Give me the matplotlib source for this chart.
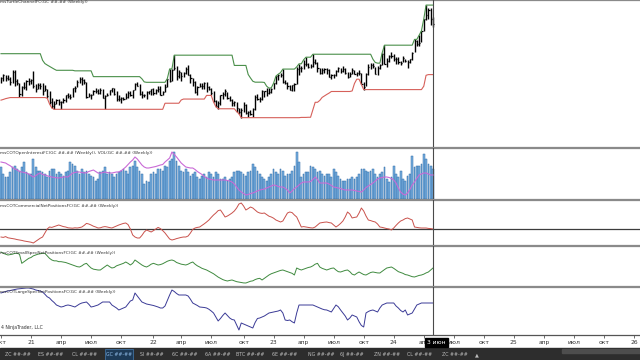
import numpy as np
import matplotlib
matplotlib.use('Agg')
import matplotlib.pyplot as plt
from matplotlib.patches import Rectangle
from matplotlib.transforms import blended_transform_factory

# weekly GC bars, Oct 2020 .. May 2024
close = [1907,1930,1906,1905,1879,1952,1889,1872,1788,1842,
         1843,1888,1883,1895,1850,1829,1855,1850,1814,1824,
         1777,1733,1700,1720,1744,1732,1728,1744,1780,1778,
         1768,1832,1838,1877,1903,1892,1879,1769,1781,1784,
         1810,1815,1801,1817,1763,1779,1783,1819,1833,1790,
         1752,1752,1760,1757,1768,1796,1783,1818,1868,1852,
         1788,1784,1784,1805,1811,1828,1797,1817,1831,1784,
         1808,1842,1899,1888,1969,1985,1921,1954,1923,1945,
         1974,1934,1911,1882,1808,1842,1853,1850,1875,1840,
         1830,1801,1742,1703,1727,1781,1791,1816,1762,1749,
         1721,1728,1683,1655,1672,1709,1649,1657,1645,1681,
         1771,1754,1755,1810,1810,1800,1804,1826,1870,1921,
         1928,1930,1876,1874,1850,1817,1856,1867,1973,1983,
         1986,2011,2015,1990,1999,2025,2019,1981,1944,1969,
         1977,1971,1920,1929,1932,1964,1982,1959,1976,1946,
         1915,1940,1966,1942,1945,1945,1866,1845,1941,1994,
         2006,1999,1940,1984,2003,2089,2014,2036,2069,2071,
         2050,2051,2029,2018,2054,2038,2024,2046,2096,2186,
         2161,2165,2254,2345,2374,2413,2349,2311]
high = [1917,1937,1933,1931,1918,1966,1966,1900,1875,1850,
        1876,1896,1907,1900,1962,1864,1875,1875,1875,1855,
        1830,1815,1760,1740,1757,1756,1742,1759,1785,1798,
        1790,1837,1846,1891,1913,1919,1903,1880,1796,1790,
        1818,1834,1830,1836,1831,1785,1795,1823,1837,1835,
        1809,1785,1765,1771,1800,1814,1812,1822,1870,1877,
        1865,1810,1792,1814,1815,1831,1832,1831,1848,1853,
        1812,1866,1905,1976,1975,2078,1995,1966,1950,1953,
        1987,2002,1935,1909,1885,1849,1870,1874,1878,1876,
        1848,1834,1812,1745,1742,1785,1807,1824,1806,1772,
        1750,1740,1733,1688,1686,1733,1715,1667,1675,1684,
        1780,1789,1765,1823,1815,1834,1834,1836,1871,1923,
        1937,1949,1975,1891,1880,1855,1860,1870,1991,2014,
        2000,2044,2063,2020,2015,2085,2048,2024,1985,1985,
        1985,1983,1972,1938,1942,1970,1991,1986,2000,1980,
        1952,1952,1981,1969,1956,1965,1948,1879,1948,2009,
        2019,2017,1989,1995,2014,2095,2152,2059,2077,2098,
        2083,2068,2062,2036,2071,2052,2043,2050,2103,2195,
        2191,2226,2259,2346,2449,2431,2427,2364]
low = [1873,1885,1890,1894,1860,1873,1850,1855,1767,1776,
       1824,1822,1855,1861,1833,1808,1828,1830,1785,1810,
       1760,1717,1687,1677,1720,1706,1679,1723,1732,1763,
       1757,1768,1808,1843,1872,1856,1866,1761,1767,1750,
       1784,1795,1789,1790,1759,1677,1772,1781,1806,1781,
       1742,1736,1722,1746,1753,1760,1772,1758,1818,1846,
       1782,1761,1766,1753,1787,1785,1783,1792,1807,1780,
       1780,1805,1842,1878,1890,1965,1895,1910,1890,1915,
       1941,1930,1872,1850,1797,1786,1840,1828,1827,1805,
       1821,1785,1731,1697,1681,1711,1754,1774,1753,1736,
       1700,1703,1660,1644,1615,1660,1641,1617,1637,1618,
       1673,1746,1729,1743,1765,1776,1787,1797,1825,1866,
       1897,1913,1871,1861,1829,1817,1809,1813,1868,1934,
       1950,1978,2000,1983,1985,1993,2012,1952,1937,1938,
       1945,1937,1914,1900,1912,1925,1954,1946,1954,1942,
       1912,1913,1940,1938,1924,1933,1861,1823,1848,1929,
       1977,1983,1935,1934,1977,2006,2009,1987,2026,2058,
       2033,2015,2010,2003,2028,2026,1984,2019,2040,2100,
       2146,2149,2172,2257,2338,2348,2302,2285]

# turtle channel (26 weeks)
upper = ([2089]*18 + [2040, 2016, 2005, 1995, 1985, 1975] + [1966]*8 + [1962]*8
         + [1919]*21 + [1903, 1880] + [1877]*9 + [1905] + [1976]*2 + [2078]*26
         + [2002]*6 + [1935, 1909, 1885] + [1878]*4 + [1876, 1848, 1834, 1836]
         + [1871, 1923, 1937, 1949] + [1975]*6 + [1991] + [2014]*2 + [2044]
         + [2063]*3 + [2085]*26 + [2048, 2024] + [2019]*2 + [2095] + [2152]*13
         + [2195]*2 + [2226, 2259, 2346] + [2449]*4)
lower = ([1745, 1750, 1756, 1760] + [1764]*16 + [1760, 1717, 1687] + [1677]*48
         + [1722]*7 + [1746] + [1753]*10 + [1780]*3 + [1731, 1697] + [1681]*8
         + [1660, 1644] + [1615]*26 + [1617]*3 + [1618]*2 + [1673] + [1729]*2
         + [1743, 1765, 1776, 1787, 1797] + [1809]*9 + [1813, 1868] + [1900]*2
         + [1861] + [1823]*26 + [1848, 1929] + [1934]*3)

# volume and open interest, thousands of contracts
volume = [1900,1500,1300,1300,1600,1900,2000,1800,1700,1900,
          2200,1600,1500,1500,2400,1900,1700,1700,1600,1500,
          1300,1700,1800,1800,1500,1600,1500,1400,1600,1700,
          2200,2100,2000,1700,1500,1800,1600,1700,1500,1400,
          1300,1100,1200,1600,1700,1900,1500,1600,1500,1300,
          1500,1600,1700,1800,1700,1500,1900,2000,2300,1900,
          1700,1500,900,1100,1000,1500,1600,1500,1800,1800,
          1700,2000,1900,2300,2400,2800,2300,2000,1700,1600,
          1800,1600,1400,1500,1600,1300,1200,1400,1500,1300,
          1600,1500,1300,1600,1500,1200,1200,1300,1100,1200,
          1300,1600,1700,1700,1600,1500,1400,1600,1700,2100,
          1900,1700,1500,1300,1200,1100,1300,1500,1800,1600,
          1500,1800,1700,1400,1500,1500,1700,2000,2800,2200,
          1300,1500,1600,1600,2000,1900,1800,1600,1700,1500,
          1400,1500,1500,1300,1800,1600,1400,1200,1100,1100,
          1200,1200,1300,1200,1300,1500,1800,1800,1700,1600,
          1700,1800,1500,1300,1500,1600,1900,1200,1000,1300,
          2000,1500,1300,1700,1200,1100,1400,1500,2600,1900,
          2000,2000,2100,2700,2400,2100,2000,1800]
open_int = [610,608,606,600,595,588,582,578,572,570,
            568,566,562,556,550,555,562,566,560,558,
            555,552,550,548,547,546,548,550,551,550,
            558,566,568,570,570,568,566,567,572,575,
            578,572,566,565,568,570,568,566,566,568,
            570,570,575,582,590,600,610,618,630,622,
            610,598,590,586,586,588,590,592,595,598,
            600,610,618,626,650,640,630,618,606,598,
            590,588,586,586,580,572,566,560,552,546,
            542,540,538,538,538,538,538,538,536,534,
            530,522,510,498,490,484,478,480,484,486,
            490,494,498,500,502,506,510,514,518,516,
            512,510,510,505,498,486,494,504,510,518,
            526,530,530,530,532,540,550,540,526,526,
            526,526,522,516,510,508,506,504,500,498,
            498,498,498,496,494,492,490,498,508,514,
            520,526,534,542,546,548,550,550,548,544,
            538,526,506,490,482,478,486,500,518,530,
            545,558,562,566,566,562,558,558]

# COT net positions, thousands
commercial = [-290,-292,-288,-294,-296,-298,-300,-303,-305,-307,
              -310,-312,-314,-316,-320,-312,-304,-296,-290,-270,
              -250,-240,-242,-238,-234,-230,-234,-238,-240,-244,
              -245,-246,-244,-245,-243,-240,-232,-222,-225,-230,
              -236,-240,-245,-244,-240,-238,-240,-243,-245,-240,
              -235,-230,-226,-222,-220,-228,-250,-280,-290,-295,
              -295,-282,-265,-255,-260,-265,-258,-250,-242,-248,
              -258,-270,-285,-300,-305,-302,-298,-295,-292,-290,
              -290,-285,-270,-252,-245,-242,-240,-232,-224,-215,
              -205,-192,-180,-170,-158,-155,-172,-190,-185,-178,
              -170,-160,-145,-125,-120,-135,-155,-148,-140,-145,
              -155,-165,-170,-172,-170,-178,-186,-190,-196,-205,
              -210,-215,-210,-190,-170,-165,-168,-180,-190,-215,
              -240,-238,-240,-242,-244,-245,-240,-230,-220,-218,
              -216,-215,-218,-220,-230,-240,-232,-222,-210,-190,
              -165,-175,-195,-192,-190,-170,-145,-160,-185,-205,
              -208,-212,-215,-225,-240,-242,-245,-248,-250,-255,
              -245,-232,-220,-210,-205,-198,-195,-200,-205,-240,
              -242,-244,-245,-245,-245,-247,-248,-250]
small_spec = [37.6,36,35,34,34.5,35,36,36,35,24,
              26,28,30,31,33,34,35,35.5,36,36,
              33,30,28,27,27,26,26,25.5,25,24,
              23,22,21,20,19.6,21,23,24,21,18.4,
              17,16.5,16,16,18,20,22,20,18.4,19,
              21,22,23,24,25.6,24,22,24,28,26,
              24,22,20.5,19.6,21,23,24,23,22,22.5,
              23.5,25,26.5,27.5,28,27,25,24,23,22.5,
              22,23,24.5,25.6,23,21,19.6,18,17,16,
              14.5,13,11.5,9.5,7.5,6,4.5,3.5,2.8,3.5,
              4,3,2,1.5,1,0.5,0.4,1.5,2.5,3,
              4.5,5.5,6,4,6,8,10,11.5,12.5,13.6,
              14.5,15.5,16,15,14,13,12,10,18.4,17,
              16,17,18,19,19.6,21,23,24,19.6,18,
              17,16,17,18,18.4,16,14,13.6,14.5,15.5,
              16,14,11,10,12,13.6,12,10.5,10,11.5,
              13,13.6,13,12.5,12.4,14.5,16.5,18.4,19,19.6,
              18,16,14,13,12,10.5,10,9,8,7.6,
              8.5,9.5,10,11,12.5,13.6,16,18.4]
large_spec = [230,233,236,238,240,242,244,246,247,248,
              249,250,250,248,246,242,240,238,234,225,
              215,210,200,192,182,178,174,176,180,182,
              180,177,174,180,186,190,192,194,185,174,
              176,179,182,188,194,194,194,194,182,176,
              170,162,166,170,174,186,198,202,230,218,
              206,194,190,186,184,182,180,177,174,170,
              170,178,200,222,242,236,228,222,222,222,
              222,218,205,190,185,180,174,173,172,170,
              165,158,150,134,118,128,140,150,140,130,
              124,122,102,82,110,106,102,98,94,90,
              112,128,130,134,138,144,150,152,154,156,
              158,162,150,122,120,122,115,110,150,182,
              182,182,182,182,182,182,178,174,170,166,
              163,162,158,154,168,182,175,162,150,138,
              122,130,142,138,134,115,100,94,150,156,
              160,162,158,154,170,182,186,190,190,190,
              190,178,170,160,154,162,142,146,150,166,
              182,186,190,190,190,190,190,190]

# x axis: quarter starts, in weeks from the first bar
tick_pos = [0, 13, 26, 39, 52, 66, 78, 91, 105, 118, 131, 144, 157, 170, 183,
            196, 209, 222, 235, 248, 261, 274]
tick_lbl = ['окт', '21', 'апр', 'июл', 'окт', '22', 'апр', 'июл', 'окт', '23',
            'апр', 'июл', 'окт', '24', 'апр', 'июл', 'окт', '25', 'апр', 'июл',
            'окт', '26']

tabs = ['ZC ##-##', 'ES ##-##', 'CL ##-##', 'GC ##-##', 'SI ##-##', '6C ##-##',
        '6A ##-##', 'BTC ##-##', '6E ##-##', 'NG ##-##', '6J ##-##', 'ZN ##-##',
        'CL ##-##', 'ZC ##-##']
tab_x = [18, 51, 85, 119, 152, 185, 218, 250, 285, 321, 352, 387, 420, 455]

W, H = 640, 360
x = np.arange(len(close))
fig = plt.figure(figsize=(6.4, 3.6), dpi=100)
fig.patch.set_facecolor('white')


def panel(top, bottom):
    ax = fig.add_axes([0, 1 - bottom / H, 1, (bottom - top) / H])
    ax.set_xlim(-0.43, 276.6)
    ax.set_xticks([])
    ax.set_yticks([])
    ax.spines['left'].set_visible(False)
    ax.spines['right'].set_visible(False)
    for s in ('top', 'bottom'):
        ax.spines[s].set_color('#8a8a8a')
        ax.spines[s].set_linewidth(0.9)
    ax.axvline(x[-1], color='#4a4a4a', lw=0.8, zorder=5)
    return ax


def title(py, txt):
    fig.text(0, 1 - py / H, txt, fontsize=3.1, color='#333333',
             va='center', ha='left')


# price panel
ax1 = panel(0, 147)
ax1.vlines(x, low, high, color='black', lw=1.0)
ax1.hlines(close, x, x + 0.5, color='black', lw=0.9)
ax1.plot(x, upper, color='#4a8f4a', lw=0.8)
ax1.plot(x, lower, color='#d6605a', lw=0.8)
ax1.set_ylim(1397.8, 2486.7)
title(1.5, 'msTurtleChannelFC(GC ##-## (Weekly))')

# volume / open interest
ax2 = panel(148, 199)
ax2.bar(x, volume, width=0.75, color='#78b0e0', edgecolor='#2f6aa6', linewidth=0.35)
ax2.set_ylim(0, 3060)
ax2b = ax2.twinx()
ax2b.set_xlim(-0.43, 276.6)
ax2b.plot(x, open_int, color='#c96ad6', lw=0.8)
ax2b.set_ylim(462, 666)
ax2b.set_yticks([])
for s in ax2b.spines.values():
    s.set_visible(False)
title(153, 'msCOTOpenInterestFC(GC ##-## (Weekly)), VOL(GC ##-## (Weekly))')

# commercials
ax3 = panel(200, 245)
ax3.axhline(-250, color='#3c3c3c', lw=0.9)
ax3.plot(x, commercial, color='#c9514b', lw=0.7)
ax3.set_ylim(-330, -105)
title(206, 'msCOTCommercialNetPositionsFC(GC ##-## (Weekly))')

# small speculators
ax4 = panel(246, 286)
ax4.plot(x, small_spec, color='#3f8a3f', lw=0.7)
ax4.set_ylim(-3.2, 44.8)
title(253, 'msCOTSmallSpecNetPositionsFC(GC ##-## (Weekly))')

# large speculators
ax5 = panel(287, 335)
ax5.plot(x, large_spec, color='#3a3a96', lw=0.7)
ax5.set_ylim(62, 254)
title(292, 'msCOTLargeSpecNetPositionsFC(GC ##-## (Weekly))')
ax5.spines['bottom'].set_color('#555555')
ax5.set_xticks(tick_pos)
ax5.set_xticklabels(tick_lbl)
ax5.tick_params(axis='x', length=2, width=0.6, pad=1.5, color='#555555',
                labelsize=4.3, labelcolor='#333333')
fig.text(1 / W, 1 - 328 / H, '4 NinjaTrader, LLC', fontsize=3.3,
         color='#333333', va='center', ha='left')

# crosshair date box
tr = blended_transform_factory(ax5.transData, fig.transFigure)
ax5.text(x[-1] + 1.5, 1 - 342.5 / H, '3 июн', transform=tr, fontsize=4.3,
         color='white', ha='center', va='center', clip_on=False, zorder=10,
         bbox=dict(boxstyle='square,pad=0.3', fc='black', ec='black'))

# instrument tab bar
fig.add_artist(Rectangle((0, 0), 1, 12 / H, transform=fig.transFigure,
                         color='#2d2d2d', zorder=0))
fig.add_artist(Rectangle((562 / W, 7 / H), 78 / W, 4 / H, transform=fig.transFigure,
                         color='#4d4d4d', zorder=1))
for name, tx in zip(tabs, tab_x):
    if name == 'GC ##-##' and tx == 119:
        fig.add_artist(Rectangle((105 / W, 0), 28 / W, 11.5 / H,
                                 transform=fig.transFigure, fc='#1d3a57',
                                 ec='#3f6f9f', lw=0.6, zorder=1))
        col = '#8fbbe8'
    else:
        col = '#bdbdbd'
    fig.text(tx / W, 5.5 / H, name, fontsize=3.4, color=col, ha='center',
             va='center', zorder=2)
fig.text(477 / W, 5.5 / H, '▲', fontsize=3.6, color='#bdbdbd', ha='center',
         va='center')

fig.savefig('out.png', dpi=100)
